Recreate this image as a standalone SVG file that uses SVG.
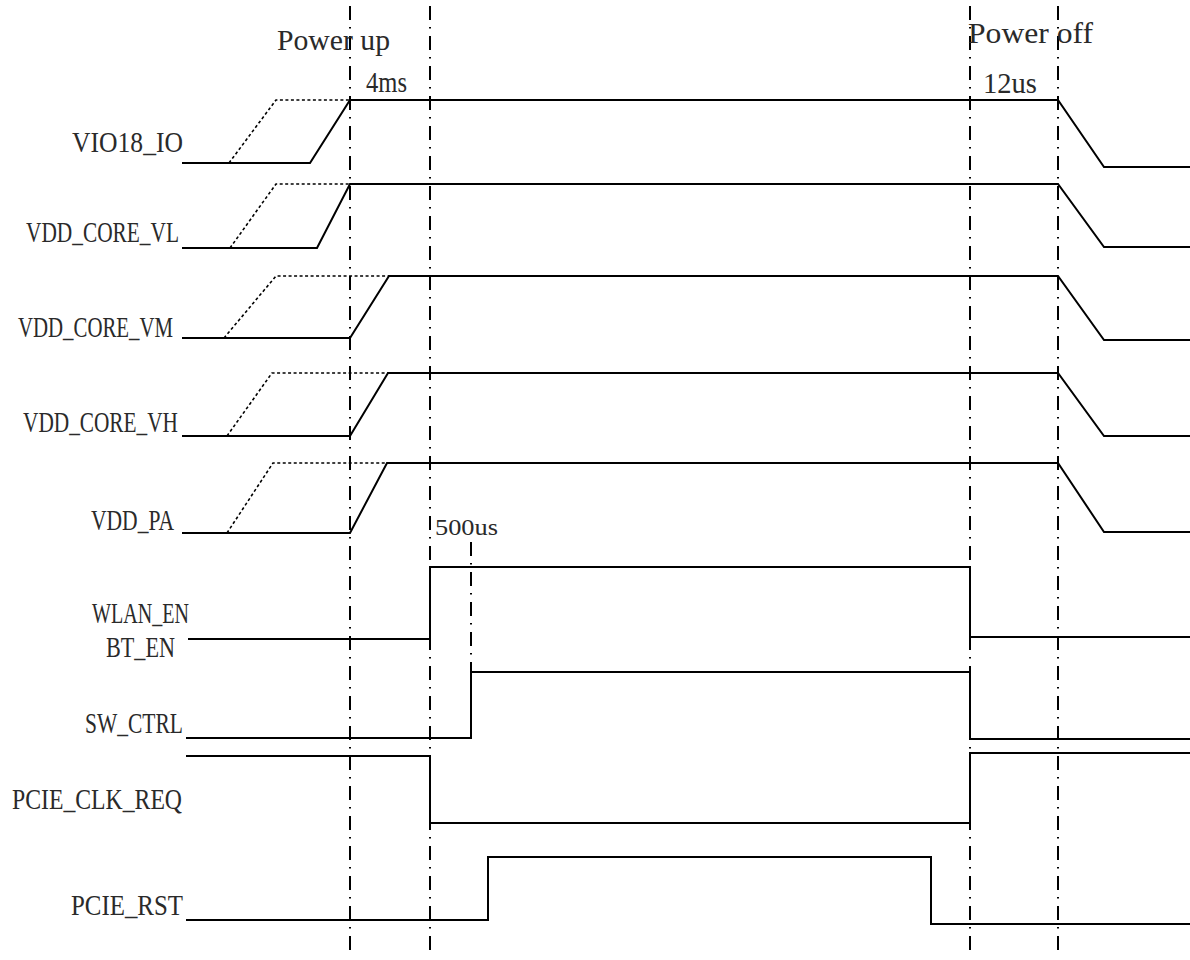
<svg xmlns="http://www.w3.org/2000/svg" width="1190" height="960" viewBox="0 0 1190 960">
<style>
.bg{fill:#ffffff}
.sig{fill:none;stroke:#000;stroke-width:2;stroke-linejoin:miter}
.dot{fill:none;stroke:#000;stroke-width:1.6;stroke-dasharray:3 2.5}
.guide{fill:none;stroke:#000;stroke-width:2;stroke-dasharray:14 7 1.5 7.5}
.lbl{font-family:"Liberation Serif","Times New Roman",serif;font-size:30px;fill:#2a2a2a}
.small{font-family:"Liberation Serif","Times New Roman",serif;font-size:24px;fill:#2a2a2a}
</style>
<rect class="bg" x="0" y="0" width="1190" height="960"/>
<g id="connectors">
<line class="guide" x1="350" y1="6" x2="350" y2="956"/>
<line class="guide" x1="430" y1="6" x2="430" y2="956"/>
<line class="guide" x1="970" y1="6" x2="970" y2="956"/>
<line class="guide" x1="1058" y1="6" x2="1058" y2="956"/>
<line class="guide" x1="471" y1="542" x2="471" y2="672"/>
</g>
<g id="annotations">
<text class="lbl" x="277" y="50" textLength="113" lengthAdjust="spacingAndGlyphs">Power up</text>
<text class="lbl" x="366" y="92" textLength="41" lengthAdjust="spacingAndGlyphs">4ms</text>
<text class="lbl" x="968" y="43" textLength="125" lengthAdjust="spacingAndGlyphs">Power off</text>
<text class="lbl" x="983" y="93" textLength="54" lengthAdjust="spacingAndGlyphs">12us</text>
<text class="small" x="435" y="535" textLength="63" lengthAdjust="spacingAndGlyphs">500us</text>
</g>
<g id="VIO18_IO">
<text class="lbl" x="72" y="152" textLength="111" lengthAdjust="spacingAndGlyphs">VIO18_IO</text>
<polyline class="dot" points="229,163 276,100 350,100"/>
<polyline class="sig" points="182,163 310,163 350,100 1058,100 1104,167 1190,167"/>
</g>
<g id="VDD_CORE_VL">
<text class="lbl" x="26" y="242" textLength="153" lengthAdjust="spacingAndGlyphs">VDD_CORE_VL</text>
<polyline class="dot" points="230,248 276,184 350,184"/>
<polyline class="sig" points="182,248 317,248 350,184 1058,184 1104,247 1190,247"/>
</g>
<g id="VDD_CORE_VM">
<text class="lbl" x="18" y="337" textLength="155" lengthAdjust="spacingAndGlyphs">VDD_CORE_VM</text>
<polyline class="dot" points="224,338 276,276 411,276"/>
<polyline class="sig" points="182,338 350,338 389,276 1058,276 1104,340 1190,340"/>
</g>
<g id="VDD_CORE_VH">
<text class="lbl" x="23" y="432" textLength="155" lengthAdjust="spacingAndGlyphs">VDD_CORE_VH</text>
<polyline class="dot" points="227,436 272,373 388,373"/>
<polyline class="sig" points="182,436 350,436 388,373 1058,373 1104,436 1190,436"/>
</g>
<g id="VDD_PA">
<text class="lbl" x="91" y="530" textLength="83" lengthAdjust="spacingAndGlyphs">VDD_PA</text>
<polyline class="dot" points="227,533 273,463 387,463"/>
<polyline class="sig" points="182,533 350,533 387,463 1058,463 1104,532 1190,532"/>
</g>
<g id="WLAN_EN">
<text class="lbl" x="92" y="623" textLength="97" lengthAdjust="spacingAndGlyphs">WLAN_EN</text>
<text class="lbl" x="106" y="657" textLength="69" lengthAdjust="spacingAndGlyphs">BT_EN</text>
<polyline class="sig" points="188,639 430,639 430,567 970,567 970,637 1190,637"/>
</g>
<g id="SW_CTRL">
<text class="lbl" x="85" y="733" textLength="98" lengthAdjust="spacingAndGlyphs">SW_CTRL</text>
<polyline class="sig" points="186,738 471,738 471,672 970,672 970,739 1190,739"/>
</g>
<g id="PCIE_CLK_REQ">
<text class="lbl" x="12" y="809" textLength="170" lengthAdjust="spacingAndGlyphs">PCIE_CLK_REQ</text>
<polyline class="sig" points="186,756 430,756 430,823 970,823 970,753 1190,753"/>
</g>
<g id="PCIE_RST">
<text class="lbl" x="71" y="915" textLength="112" lengthAdjust="spacingAndGlyphs">PCIE_RST</text>
<polyline class="sig" points="186,920 488,920 488,857 931,857 931,924 1190,924"/>
</g>
</svg>
